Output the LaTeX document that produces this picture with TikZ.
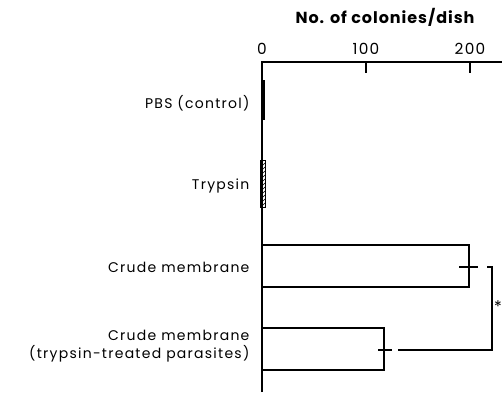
\documentclass[tikz,border=0pt]{standalone}
\usepackage{fontspec}
\setmainfont{Poppins}
\usetikzlibrary{patterns}

\begin{document}
\begin{tikzpicture}[x=0.75pt,y=-0.75pt,line width=0.9pt,
    lbl/.style={anchor=east, align=right, inner sep=0pt, font=\fontsize{10.5}{13}\selectfont\addfontfeatures{LetterSpace=9}},
    num/.style={inner sep=0pt, font=\fontsize{11.5}{13}\selectfont\addfontfeatures{LetterSpace=8}},
    errbar/.style={line width=0.8pt}
    ]
    \useasboundingbox (0,0) rectangle (502,392);

    % axes
    \node[font=\fontsize{12}{14}\selectfont\bfseries\addfontfeatures{LetterSpace=6}] (title) at (385,17) {No. of colonies/dish};
    \draw (262,392) -- (262,62) -- (502,62);
    \foreach \v/\x in {0/262,100/366,200/470}
        \node[num] (tick\v) at (\x,49) {\v};
    \foreach \x in {366,470}
        \draw (\x,62) -- (\x,73);

    % labels
    \node[lbl] (pbs) at (250,103) {PBS (control)};
    \node[lbl] (tryp) at (250,186) {Trypsin};
    \node[lbl] (crude) at (250,267) {Crude membrane};
    \node[lbl] (treated) at (250,346) {Crude membrane\\(trypsin-treated parasites)};

    % bars
    \fill (261,80) rectangle (264.5,120);
    \draw[line width=0.6pt, pattern=north east lines] (260,160) rectangle (265,207);
    \draw (262,245) rectangle (469,287);
    \draw (262,328) rectangle (384,370);

    % error bars
    \coordinate (e1) at (469,267);
    \coordinate (e2) at (384,350);
    \draw[errbar] (e1) ++(-10,0) -- ++(19,0) (e1) ++(0,-10) -- ++(0,20);
    \draw[errbar] (e2) ++(-6,0) -- ++(14,0) (e2) ++(0,-10) -- ++(0,20);

    % significance bracket
    \coordinate (b1) at (487,267);
    \coordinate (b2) at (398,350);
    \draw[errbar] (b1) -- ++(5,0) |- (b2);
    \node[inner sep=0pt, font=\large] (star) at (498,307) {*};
\end{tikzpicture}
\end{document}
